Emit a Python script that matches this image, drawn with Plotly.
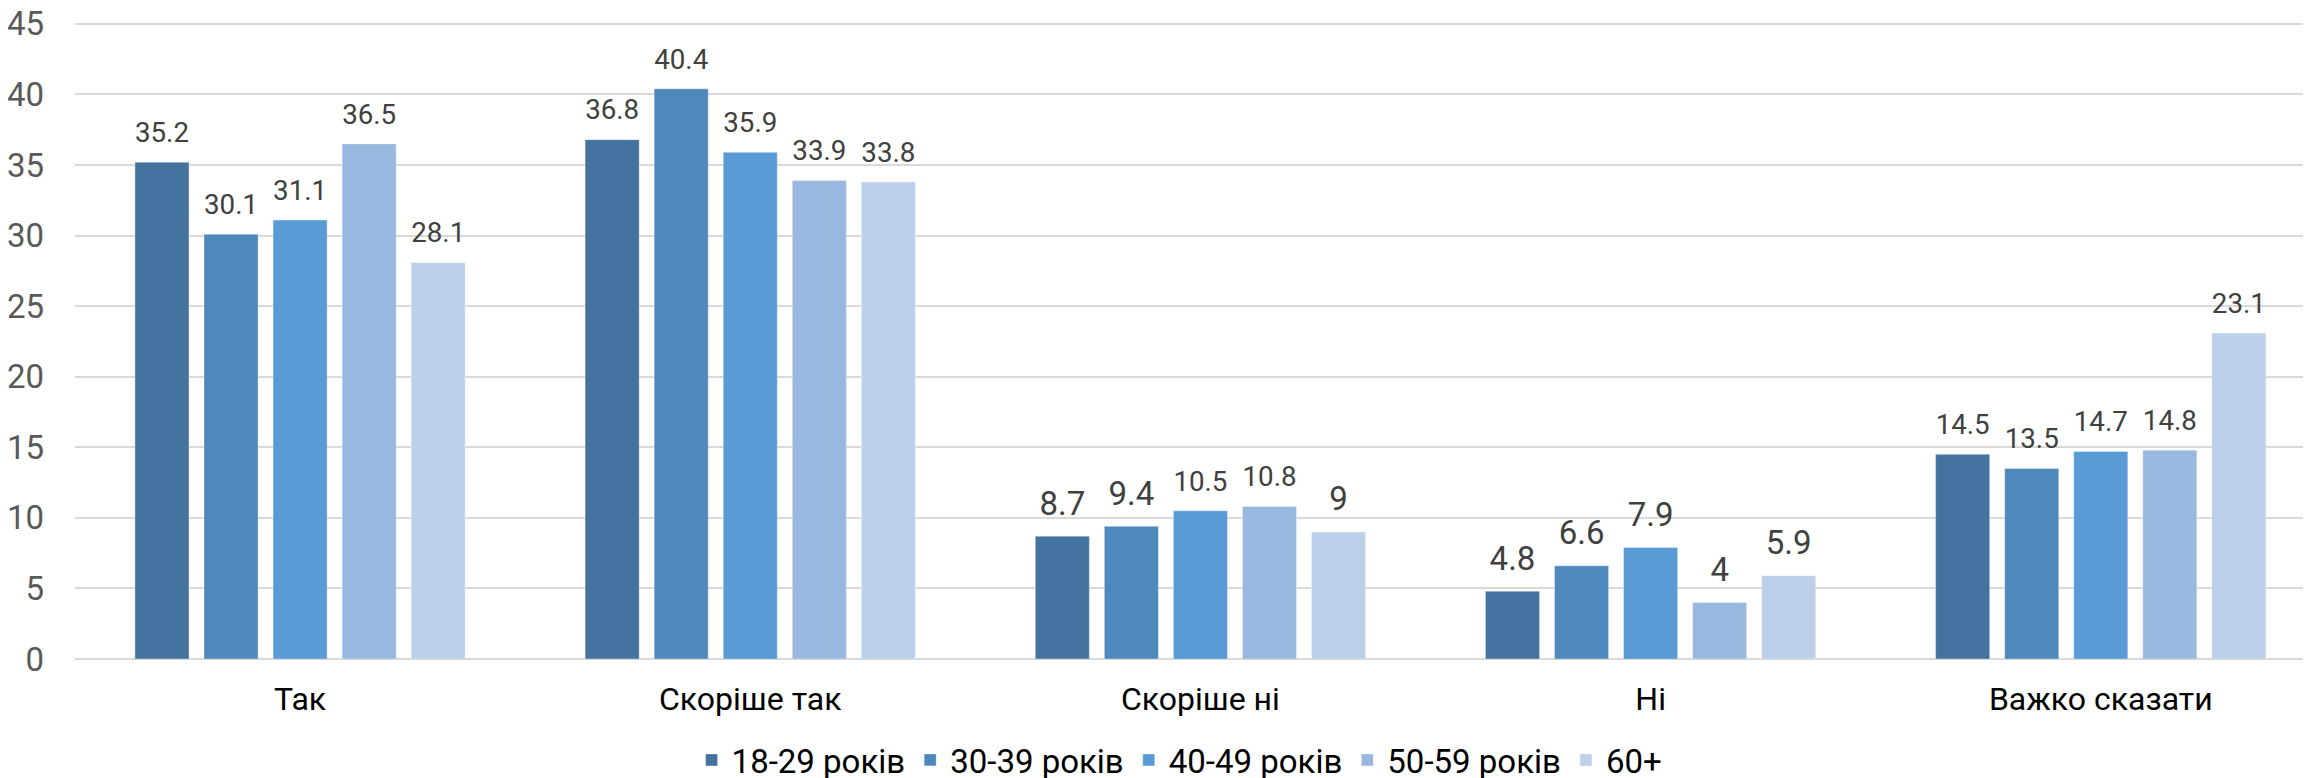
import plotly.graph_objects as go

categories = ["Так", "Скоріше так", "Скоріше ні", "Ні", "Важко сказати"]
series_names = ["18-29 років", "30-39 років", "40-49 років", "50-59 років", "60+"]
values_18_29 = [35.2, 36.8, 8.7, 4.8, 14.5]
values_30_39 = [30.1, 40.4, 9.4, 6.6, 13.5]
values_40_49 = [31.1, 35.9, 10.5, 7.9, 14.7]
values_50_59 = [36.5, 33.9, 10.8, 4, 14.8]
values_60 = [28.1, 33.8, 9, 5.9, 23.1]
colors = ["#44739F", "#4F89BC", "#5B9BD5", "#98B8DF", "#BDD0E9"]
y_ticks = [0, 5, 10, 15, 20, 25, 30, 35, 40, 45]

all_values = [values_18_29, values_30_39, values_40_49, values_50_59, values_60]
FONT = "Roboto, 'Open Sans', sans-serif"
FS = 33
LABEL_GAP = 0.75  # gap between bar top and its value label, in axis units

fig = go.Figure()
for i, (name, vals, col) in enumerate(zip(series_names, all_values, colors)):
    fig.add_trace(go.Bar(
        x=categories, y=vals, name=name, offsetgroup=str(i),
        marker=dict(color=col, line=dict(color="rgba(255,255,255,0.35)", width=1)),
        cliponaxis=False,
    ))
    # transparent carrier bar holding the value label slightly above the bar
    fig.add_trace(go.Bar(
        x=categories, y=[LABEL_GAP] * len(vals), base=vals, offsetgroup=str(i),
        marker=dict(color="rgba(0,0,0,0)", line=dict(width=0)),
        text=[f"{v:g}" for v in vals], textposition="outside",
        textfont=dict(family=FONT, size=FS, color="#404040"),
        showlegend=False, hoverinfo="skip", cliponaxis=False,
    ))

fig.update_layout(
    width=2311, height=778,
    barmode="group", bargap=0.233, bargroupgap=0.217,
    plot_bgcolor="white", paper_bgcolor="white",
    margin=dict(l=67, r=8, t=10, b=127, autoexpand=False),
    font=dict(family=FONT, size=FS, color="#000000"),
    showlegend=True,
    legend=dict(
        orientation="h", xanchor="center", x=0.494, yanchor="bottom", y=-0.2012,
        font=dict(family=FONT, size=FS, color="#000000"),
        itemwidth=30, tracegroupgap=0,
    ),
    uniformtext=dict(mode=False),
)
fig.update_xaxes(
    range=[-0.5, 4.467], showgrid=False, showline=False, ticks="",
    tickfont=dict(family=FONT, size=32, color="#000000"),
    ticklabelstandoff=18, automargin=False, ticklabeloverflow="allow",
)
fig.update_yaxes(
    range=[0, 45.42], tickvals=y_ticks, showgrid=True, gridcolor="#D9D9D9", gridwidth=2,
    zeroline=True, zerolinecolor="#D9D9D9", zerolinewidth=2,
    showline=False, ticks="",
    tickfont=dict(family=FONT, size=FS, color="#595959"),
    ticklabelstandoff=30, automargin=False, ticklabeloverflow="allow",
)

fig.write_html("out.html")
